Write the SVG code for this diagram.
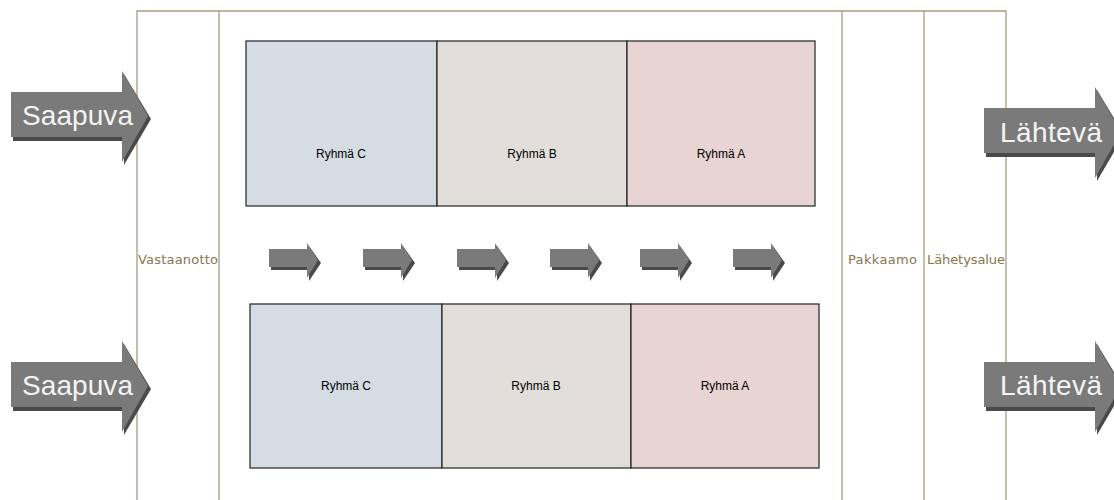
<svg xmlns="http://www.w3.org/2000/svg" width="1114" height="500" viewBox="0 0 1114 500">
  <defs>
    <style>
      .lane { stroke: #a89a80; stroke-width: 1.3; fill: none; }
      .zone { font-family: "DejaVu Sans", Verdana, sans-serif; font-size: 13px; fill: #8a7650; }
      .grp { font-family: "Liberation Sans", Arial, sans-serif; font-size: 12px; fill: #000; text-anchor: middle; }
      .cell { stroke: #222; stroke-width: 1.2; }
      .face { fill: #7a7a7a; }
      .shade { fill: #4a4a4a; }
      .flow { font-family: "Liberation Sans", Arial, sans-serif; font-size: 28px; fill: #f4f4f4; }
      .c { fill: #d6dce4; }
      .b { fill: #e2dfdb; }
      .a { fill: #e8d4d2; }
    </style>
    <!-- small block arrow, 49 x 35 -->
    <g id="step">
      <polygon class="shade" points="2,9 40,9 40,3 52,20 40,38 40,27 2,27"/>
      <polygon class="face" points="0,6 38,6 38,0 49,17 38,35 38,24 0,24"/>
    </g>
    <!-- large block arrow shape, 137 x 91 -->
    <g id="big">
      <polygon class="shade" points="2,24 113,24 113,3 140,48 113,94 113,70 2,70"/>
      <polygon class="face" points="0,21 111,21 111,0 137,45 111,91 111,66 0,66"/>
    </g>
  </defs>

  <!-- area frame and lanes -->
  <g id="frame">
    <polyline class="lane" points="137,500 137,11 1006,11 1006,500"/>
    <line class="lane" x1="219" y1="11" x2="219" y2="500"/>
    <line class="lane" x1="842" y1="11" x2="842" y2="500"/>
    <line class="lane" x1="924" y1="11" x2="924" y2="500"/>
  </g>

  <g id="zone-vastaanotto"><text class="zone" x="138" y="264" textLength="80">Vastaanotto</text></g>
  <g id="zone-pakkaamo"><text class="zone" x="848" y="264" textLength="69">Pakkaamo</text></g>
  <g id="zone-lahetysalue"><text class="zone" x="927" y="264" textLength="78">Lähetysalue</text></g>

  <!-- upper storage row -->
  <g id="top-c"><rect class="cell c" x="246" y="41" width="191" height="165"/><text class="grp" x="341" y="158">Ryhmä C</text></g>
  <g id="top-b"><rect class="cell b" x="437" y="41" width="190" height="165"/><text class="grp" x="532" y="158">Ryhmä B</text></g>
  <g id="top-a"><rect class="cell a" x="627" y="41" width="188" height="165"/><text class="grp" x="721" y="158">Ryhmä A</text></g>

  <!-- lower storage row -->
  <g id="bot-c"><rect class="cell c" x="250" y="304" width="192" height="164"/><text class="grp" x="346" y="390">Ryhmä C</text></g>
  <g id="bot-b"><rect class="cell b" x="442" y="304" width="189" height="164"/><text class="grp" x="536" y="390">Ryhmä B</text></g>
  <g id="bot-a"><rect class="cell a" x="631" y="304" width="188" height="164"/><text class="grp" x="725" y="390">Ryhmä A</text></g>

  <!-- flow between rows -->
  <g id="connectors">
    <use href="#step" x="269" y="243"/>
    <use href="#step" x="363" y="243"/>
    <use href="#step" x="457" y="243"/>
    <use href="#step" x="550" y="243"/>
    <use href="#step" x="640" y="243"/>
    <use href="#step" x="733" y="243"/>
  </g>

  <!-- incoming / outgoing -->
  <g id="in-top"><use href="#big" x="11" y="71"/><text class="flow" x="22" y="125" textLength="111">Saapuva</text></g>
  <g id="in-bottom"><use href="#big" x="11" y="341"/><text class="flow" x="22" y="395" textLength="111">Saapuva</text></g>
  <g id="out-top"><use href="#big" x="984" y="87"/><text class="flow" x="1000" y="142" textLength="102">Lähtevä</text></g>
  <g id="out-bottom"><use href="#big" x="984" y="341"/><text class="flow" x="1000" y="395" textLength="102">Lähtevä</text></g>
</svg>
